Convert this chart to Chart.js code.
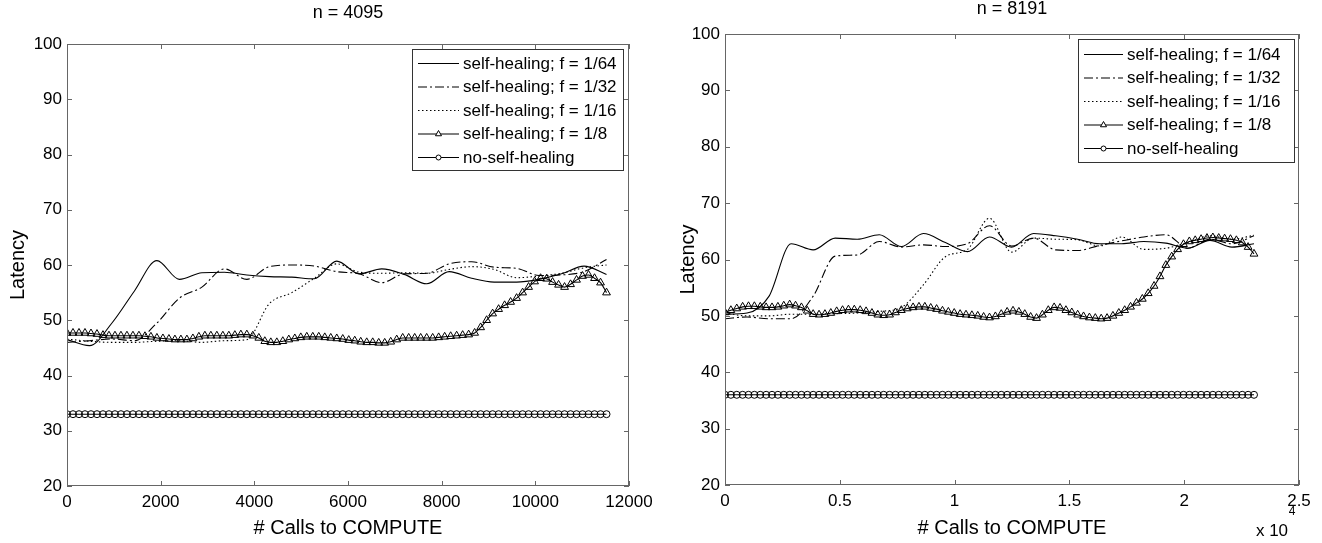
<!DOCTYPE html>
<html>
<head>
<meta charset="utf-8">
<script src="https://cdn.jsdelivr.net/npm/chart.js@4"></script>
<style>
  html, body { margin: 0; padding: 0; background: #fff; }
  #wrap { position: relative; width: 1322px; height: 543px; }
  canvas { position: absolute; top: 0; }
  #c1 { left: 0; }
  #c2 { left: 660px; }
</style>
</head>
<body>
<div id="wrap">
  <canvas id="c1" width="660" height="543"></canvas>
  <canvas id="c2" width="662" height="543"></canvas>
</div>
<script>
// series names (same in both panels)
const seriesLabels = ["self-healing; f = 1/64", "self-healing; f = 1/32", "self-healing; f = 1/16", "self-healing; f = 1/8", "no-self-healing"];

// ---- n = 4095 ----
const callsLeft = [0,128,256,384,512,640,768,896,1024,1152,1280,1408,1536,1664,1792,1920,2048,2176,2304,2432,2560,2688,2816,2944,3072,3200,3328,3456,3584,3712,3840,3968,4096,4224,4352,4480,4608,4736,4864,4992,5120,5248,5376,5504,5632,5760,5888,6016,6144,6272,6400,6528,6656,6784,6912,7040,7168,7296,7424,7552,7680,7808,7936,8064,8192,8320,8448,8576,8704,8832,8960,9088,9216,9344,9472,9600,9728,9856,9984,10112,10240,10368,10496,10624,10752,10880,11008,11136,11264,11392,11520];
const callsLeftLine = [0,480,960,1440,1920,2400,2880,3360,3840,4320,4800,5280,5760,6240,6720,7200,7680,8160,8640,9120,9600,10080,10560,11040,11520];
const leftF64 = [46.5,45.4,49.5,55.3,60.8,57.4,58.6,58.7,58.2,57.9,57.8,57.5,60.7,58.4,59.3,58.3,56.6,58.8,57.6,56.9,56.9,57.4,58.4,59.8,58.3];
const leftF32 = [46.0,46.3,46.6,46.3,49.5,54.0,56.0,59.3,57.4,59.7,60.0,59.8,58.8,58.4,56.8,58.4,58.5,60.2,60.6,59.6,59.4,58.1,58.2,58.8,61.0];
const leftF16 = [46.6,46.2,46.0,46.0,46.2,46.3,46.0,46.3,46.5,53.0,55.0,57.6,60.2,58.7,58.5,58.6,58.5,59.2,59.7,59.2,57.7,58.0,58.5,59.5,60.0];
const leftF8 = [47.7,47.7,47.7,47.7,47.6,47.5,47.3,47.2,47.2,47.2,47.2,47.2,47.2,47.1,47.0,46.8,46.7,46.6,46.5,46.5,46.5,46.7,47.0,47.2,47.2,47.2,47.2,47.2,47.3,47.4,47.4,47.2,46.8,46.2,46.0,46.0,46.2,46.5,46.7,46.9,47.0,47.0,47.0,46.9,46.8,46.7,46.6,46.4,46.3,46.1,46.0,46.0,45.9,45.9,46.1,46.5,46.8,46.8,46.8,46.8,46.8,46.8,46.9,47.0,47.1,47.2,47.3,47.4,47.7,48.7,50.0,51.2,52.0,52.7,53.3,54.0,55.0,56.0,57.0,57.6,57.5,56.9,56.4,56.0,56.5,57.3,58.0,58.2,57.6,56.8,55.0];
const leftNone = [33,33,33,33,33,33,33,33,33,33,33,33,33,33,33,33,33,33,33,33,33,33,33,33,33,33,33,33,33,33,33,33,33,33,33,33,33,33,33,33,33,33,33,33,33,33,33,33,33,33,33,33,33,33,33,33,33,33,33,33,33,33,33,33,33,33,33,33,33,33,33,33,33,33,33,33,33,33,33,33,33,33,33,33,33,33,33,33,33,33,33];

// ---- n = 8191 ----
const callsRight = [0,256,512,768,1024,1280,1536,1792,2048,2304,2560,2816,3072,3328,3584,3840,4096,4352,4608,4864,5120,5376,5632,5888,6144,6400,6656,6912,7168,7424,7680,7936,8192,8448,8704,8960,9216,9472,9728,9984,10240,10496,10752,11008,11264,11520,11776,12032,12288,12544,12800,13056,13312,13568,13824,14080,14336,14592,14848,15104,15360,15616,15872,16128,16384,16640,16896,17152,17408,17664,17920,18176,18432,18688,18944,19200,19456,19712,19968,20224,20480,20736,20992,21248,21504,21760,22016,22272,22528,22784,23040];
const callsRightLine = [0,960,1920,2880,3840,4800,5760,6720,7680,8640,9600,10560,11520,12480,13440,14400,15360,16320,17280,18240,19200,20160,21120,22080,23040];
const rightF64 = [50.3,50.5,53.5,62.8,61.7,63.8,63.6,64.4,62.3,64.6,63.0,61.4,64.0,62.2,64.6,64.2,63.6,62.8,62.8,63.2,62.9,62.0,63.4,62.2,62.8];
const rightF32 = [49.5,49.8,49.5,49.5,53.5,60.6,60.8,63.2,62.2,62.6,62.3,62.8,66.0,62.4,63.8,61.7,61.6,62.5,63.3,64.0,64.4,62.0,63.6,62.8,64.2];
const rightF16 = [50.5,50.0,50.0,50.3,50.3,50.4,50.5,50.8,51.5,55.5,60.5,61.8,67.3,61.3,63.8,63.6,63.5,62.4,64.0,61.8,62.0,63.0,64.2,63.6,64.3];
const rightF8 = [50.6,51.0,51.3,51.6,51.7,51.7,51.6,51.5,51.5,51.6,51.8,52.0,51.8,51.5,50.9,50.3,50.2,50.3,50.5,50.8,51.0,51.1,51.1,51.0,50.8,50.5,50.2,50.1,50.2,50.6,51.0,51.3,51.5,51.6,51.6,51.4,51.2,50.9,50.7,50.5,50.3,50.2,50.1,50.0,49.8,49.7,49.9,50.3,50.7,50.9,50.7,50.3,49.8,49.6,50.2,51.0,51.5,51.4,51.0,50.6,50.2,49.9,49.7,49.6,49.5,49.6,50.0,50.5,51.0,51.6,52.3,53.0,54.0,55.3,57.0,59.0,60.5,61.8,62.7,63.2,63.4,63.6,63.8,63.9,63.8,63.7,63.6,63.4,63.0,62.2,61.0];
const rightNone = [36,36,36,36,36,36,36,36,36,36,36,36,36,36,36,36,36,36,36,36,36,36,36,36,36,36,36,36,36,36,36,36,36,36,36,36,36,36,36,36,36,36,36,36,36,36,36,36,36,36,36,36,36,36,36,36,36,36,36,36,36,36,36,36,36,36,36,36,36,36,36,36,36,36,36,36,36,36,36,36,36,36,36,36,36,36,36,36,36,36,36];

const yTicks = [20, 30, 40, 50, 60, 70, 80, 90, 100];

Chart.defaults.font.family = "'Liberation Sans', Arial, sans-serif";
Chart.defaults.color = "#000";

const styles = [
  { dash: [], pt: false },
  { dash: [9, 3, 2, 3], pt: false },
  { dash: [1.5, 2.5], pt: false },
  { dash: [], pt: "triangle", r: 4.5 },
  { dash: [], pt: "circle", r: 3.5 }
];

function pts(xs, ys) {
  return xs.map((x, i) => ({ x: x, y: ys[i] }));
}

// box, inner ticks, title and legend in matlab style
const frame = {
  id: "frame",
  afterDraw(chart, args, o) {
    const { ctx, chartArea: a, scales: { x, y } } = chart;
    ctx.save();
    ctx.strokeStyle = "#666";
    ctx.lineWidth = 1;
    ctx.strokeRect(a.left + 0.5, a.top + 0.5, a.right - a.left - 1, a.bottom - a.top - 1);
    ctx.beginPath();
    y.ticks.forEach(t => {
      const py = Math.round(y.getPixelForValue(t.value)) + 0.5;
      ctx.moveTo(a.left, py); ctx.lineTo(a.left + 5, py);
      ctx.moveTo(a.right, py); ctx.lineTo(a.right - 5, py);
    });
    x.ticks.forEach(t => {
      const px = Math.round(x.getPixelForValue(t.value)) + 0.5;
      ctx.moveTo(px, a.bottom); ctx.lineTo(px, a.bottom - 5);
      ctx.moveTo(px, a.top); ctx.lineTo(px, a.top + 5);
    });
    ctx.stroke();

    ctx.fillStyle = "#000";
    ctx.textAlign = "center";
    ctx.textBaseline = "middle";
    ctx.font = "18px 'Liberation Sans', Arial, sans-serif";
    ctx.fillText(o.title, (a.left + a.right) / 2, o.titleY);

    if (o.exponent) {
      ctx.font = "17px 'Liberation Sans', Arial, sans-serif";
      ctx.fillText("x 10", o.exponent[0], o.exponent[1]);
      ctx.font = "12px 'Liberation Sans', Arial, sans-serif";
      ctx.fillText("4", o.exponent[0] + 20, o.exponent[1] - 19);
    }

    // legend
    const [bx1, by1, bx2, by2] = o.legendBox;
    ctx.fillStyle = "#fff";
    ctx.fillRect(bx1, by1, bx2 - bx1, by2 - by1);
    ctx.strokeStyle = "#333";
    ctx.strokeRect(bx1 + 0.5, by1 + 0.5, bx2 - bx1, by2 - by1);
    ctx.textAlign = "left";
    seriesLabels.forEach((lab, i) => {
      const ry = o.rows[i];
      const s = styles[i];
      ctx.strokeStyle = "#000";
      ctx.lineWidth = 1.1;
      ctx.setLineDash(s.dash);
      ctx.beginPath();
      ctx.moveTo(o.sample[0], ry + 0.5);
      ctx.lineTo(o.sample[1], ry + 0.5);
      ctx.stroke();
      ctx.setLineDash([]);
      ctx.lineWidth = 1;
      if (s.pt) {
        ctx.fillStyle = "#fff";
        Chart.helpers.drawPoint(ctx, { pointStyle: s.pt, radius: s.r - 1, borderWidth: 1 },
          (o.sample[0] + o.sample[1]) / 2, ry + 0.5);
      }
      ctx.fillStyle = "#000";
      ctx.font = "17px 'Liberation Sans', Arial, sans-serif";
      ctx.fillText(lab, o.textX, ry + 1);
    });
    ctx.restore();
  }
};

function makeChart(id, p) {
  const sets = [p.f64, p.f32, p.f16].map((ys, i) => ({
    label: seriesLabels[i],
    data: pts(p.lineX, ys),
    borderColor: "#000",
    borderWidth: 1.1,
    borderDash: styles[i].dash,
    pointRadius: 0,
    cubicInterpolationMode: "monotone",
    fill: false
  }));
  [p.f8, p.none].forEach((ys, j) => {
    const s = styles[3 + j];
    sets.push({
      label: seriesLabels[3 + j],
      data: pts(p.markX, ys),
      borderColor: "#000",
      borderWidth: 1.1,
      pointStyle: s.pt,
      pointRadius: s.r,
      pointBorderWidth: 1,
      pointBorderColor: "#000",
      pointBackgroundColor: "rgba(0,0,0,0)",
      cubicInterpolationMode: "monotone",
      fill: false
    });
  });

  return new Chart(document.getElementById(id), {
    type: "line",
    data: { datasets: sets },
    options: {
      responsive: false,
      animation: false,
      events: [],
      layout: { padding: { left: 0, top: p.top, right: p.right, bottom: 0 } },
      plugins: {
        legend: { display: false },
        tooltip: { enabled: false },
        frame: p.frame
      },
      scales: {
        x: {
          type: "linear",
          min: 0,
          max: p.xMax,
          afterFit: s => { s.height = p.xH; },
          ticks: {
            stepSize: p.xStep,
            autoSkip: false,
            maxRotation: 0,
            padding: 6,
            font: { size: 17 },
            callback: p.xFmt
          },
          grid: { display: false, drawTicks: false },
          border: { display: false },
          title: { display: true, text: "# Calls to COMPUTE", font: { size: 20 }, padding: { top: 0, bottom: 3 } }
        },
        y: {
          min: 20,
          max: 100,
          afterFit: s => { s.width = p.yW; },
          afterBuildTicks: s => { s.ticks = yTicks.map(v => ({ value: v })); },
          ticks: { padding: 5, font: { size: 17 } },
          grid: { display: false, drawTicks: false },
          border: { display: false },
          title: { display: true, text: "Latency", font: { size: 20 }, padding: { top: p.yTitlePad, bottom: 0 } }
        }
      }
    },
    plugins: [frame]
  });
}

makeChart("c1", {
  lineX: callsLeftLine, markX: callsLeft,
  f64: leftF64, f32: leftF32, f16: leftF16, f8: leftF8, none: leftNone,
  top: 44, right: 31, xH: 57, yW: 67, yTitlePad: 6,
  xMax: 12000, xStep: 2000, xFmt: v => String(v),
  frame: {
    title: "n = 4095", titleY: 13,
    legendBox: [412, 49, 623, 170],
    rows: [63, 86.5, 110, 133.5, 157],
    sample: [418, 459], textX: 463
  }
});

makeChart("c2", {
  lineX: callsRightLine, markX: callsRight,
  f64: rightF64, f32: rightF32, f16: rightF16, f8: rightF8, none: rightNone,
  top: 34, right: 23, xH: 58, yW: 65, yTitlePad: 16,
  xMax: 25000, xStep: 5000, xFmt: v => String(v / 10000),
  frame: {
    title: "n = 8191", titleY: 9,
    legendBox: [418, 39, 634, 162],
    rows: [54, 77.5, 101, 124.5, 148],
    sample: [424, 463], textX: 467,
    exponent: [612, 531]
  }
});
</script>
</body>
</html>
